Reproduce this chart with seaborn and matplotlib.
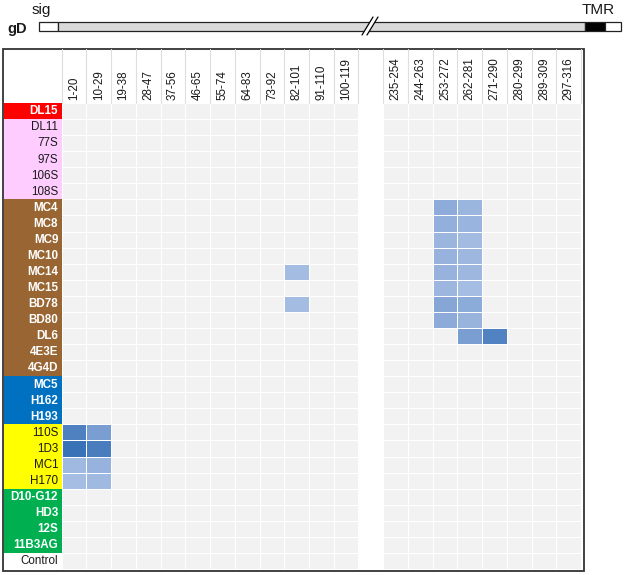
import numpy as np
import pandas as pd
import matplotlib
matplotlib.use("Agg")
import matplotlib.pyplot as plt
from matplotlib.patches import Rectangle, Polygon
from matplotlib.lines import Line2D
from matplotlib.colors import LinearSegmentedColormap, ListedColormap
import seaborn as sns

sns.set_style("white")
plt.rcParams['font.family'] = ['Liberation Sans', 'DejaVu Sans']

# ---------------- data ----------------
rows = ["DL15", "DL11", "77S", "97S", "106S", "108S",
        "MC4", "MC8", "MC9", "MC10", "MC14", "MC15", "BD78", "BD80", "DL6", "4E3E", "4G4D",
        "MC5", "H162", "H193",
        "110S", "1D3", "MC1", "H170",
        "D10-G12", "HD3", "12S", "11B3AG",
        "Control"]
row_group = ["red", "pink", "pink", "pink", "pink", "pink",
             "brown", "brown", "brown", "brown", "brown", "brown", "brown", "brown", "brown", "brown", "brown",
             "blue", "blue", "blue",
             "yellow", "yellow", "yellow", "yellow",
             "green", "green", "green", "green",
             "control"]
left_cols = ["1-20", "10-29", "19-38", "28-47", "37-56", "46-65", "55-74", "64-83",
             "73-92", "82-101", "91-110", "100-119"]
right_cols = ["235-254", "244-263", "253-272", "262-281", "271-290", "280-299",
              "289-309", "297-316"]

# binding intensity (0 = no binding) for the columns that show signal
col_1_20 = {"110S": 0.82, "1D3": 1.0, "MC1": 0.13, "H170": 0.08}
col_10_29 = {"110S": 0.45, "1D3": 0.86, "MC1": 0.20, "H170": 0.13}
col_82_101 = {"MC14": 0.09, "BD78": 0.09}
col_253_272 = {"MC4": 0.28, "MC8": 0.24, "MC9": 0.17, "MC10": 0.20, "MC14": 0.20,
               "MC15": 0.16, "BD78": 0.34, "BD80": 0.29}
col_262_281 = {"MC4": 0.17, "MC8": 0.18, "MC9": 0.10, "MC10": 0.15, "MC14": 0.15,
               "MC15": 0.08, "BD78": 0.30, "BD80": 0.19, "DL6": 0.45}
col_271_290 = {"DL6": 0.80}

signal = {"1-20": col_1_20, "10-29": col_10_29, "82-101": col_82_101,
          "253-272": col_253_272, "262-281": col_262_281, "271-290": col_271_290}

group_style = {
    "red": ("#ff0000", "white", "bold"),
    "pink": ("#ffccff", "#1a1a1a", "normal"),
    "brown": ("#996633", "white", "bold"),
    "blue": ("#0070c0", "white", "bold"),
    "yellow": ("#ffff00", "#1a1a1a", "normal"),
    "green": ("#00b050", "white", "bold"),
    "control": ("white", "#1a1a1a", "normal"),
}

# ---------------- table ----------------
GAP = " "
columns = left_cols + [GAP] + right_cols
df = pd.DataFrame(0.0, index=rows, columns=columns)
for c, d in signal.items():
    for r, v in d.items():
        df.loc[r, c] = v

gap_mask = np.zeros(df.shape, dtype=bool)
gap_mask[:, columns.index(GAP)] = True

# ---------------- figure ----------------
W, H = 625, 575
fig = plt.figure(figsize=(W / 100, H / 100), dpi=100)

def fx(x):
    return x / W

def fy(y):
    return 1 - y / H

x0, x1 = 61.7, 581.0
y0, y1 = 103.0, 569.0
ax = fig.add_axes([fx(x0), fy(y1), fx(x1) - fx(x0), fy(y0) - fy(y1)])
ax.set_facecolor("white")

bg = pd.DataFrame(1.0, index=rows, columns=columns)
sns.heatmap(bg, ax=ax, mask=gap_mask, cmap=ListedColormap(["#f2f2f2"]), vmin=0, vmax=2,
            cbar=False, linewidths=0.5, linecolor="white",
            xticklabels=False, yticklabels=False)

cmap = LinearSegmentedColormap.from_list("gd_blues", ["#aec3e6", "#3a72b8"])
sns.heatmap(df, ax=ax, mask=(df.values <= 0) | gap_mask, cmap=cmap, vmin=0, vmax=1,
            cbar=False, linewidths=0.5, linecolor="white",
            xticklabels=False, yticklabels=False)
for s in ax.spines.values():
    s.set_visible(False)
ax.set_xlabel("")
ax.set_ylabel("")

cw = (x1 - x0) / len(columns)
rh = (y1 - y0) / len(rows)
FS = 8.4

# column labels
for j, c in enumerate(columns):
    if c == GAP:
        continue
    ax.text(j + 0.5, -0.2, c, rotation=90, ha="center", va="bottom",
            fontsize=FS, color="#1a1a1a", clip_on=False)

# header separators
for k in list(range(0, 13)) + list(range(13, 22)):
    xx = x0 + k * cw
    fig.add_artist(Line2D([fx(xx), fx(xx)], [fy(49), fy(y0)], color="#dedede", lw=0.8))

# row labels
lab_w = (x0 - 3.5) / cw
for i, (r, g) in enumerate(zip(rows, row_group)):
    fc, tc, fw = group_style[g]
    ax.add_patch(Rectangle((-lab_w, i), lab_w, 1, facecolor=fc, edgecolor="none",
                           clip_on=False, zorder=3))
    ax.text(-0.14, i + 0.52, r, ha="right", va="center", fontsize=FS,
            color=tc, fontweight=fw, clip_on=False, zorder=4)

# outer box
fig.add_artist(Rectangle((fx(3), fy(570.5)), fx(584) - fx(3), fy(48.5) - fy(570.5),
                         facecolor="none", edgecolor="#333333", lw=1.3,
                         transform=fig.transFigure))

# ---------------- gene diagram ----------------
by0, by1 = 22, 31
def seg(xa, xb, color):
    fig.add_artist(Rectangle((fx(xa), fy(by1)), fx(xb) - fx(xa), fy(by0) - fy(by1),
                             facecolor=color, edgecolor="#222222", lw=0.9,
                             transform=fig.transFigure))
seg(39, 58, "white")
seg(58, 585, "#d9d9d9")
seg(585, 605, "black")
seg(605, 621, "white")
# break mark
fig.add_artist(Polygon([(fx(362.5), fy(34)), (fx(372.5), fy(18)), (fx(377.5), fy(18)),
                        (fx(367.5), fy(34))], closed=True, facecolor="white",
                       edgecolor="none", transform=fig.transFigure))
fig.add_artist(Line2D([fx(362), fx(373)], [fy(35), fy(17)], color="black", lw=0.9))
fig.add_artist(Line2D([fx(367), fx(378)], [fy(35), fy(17)], color="black", lw=0.9))

fig.text(fx(32), fy(10), "sig", ha="left", va="center", fontsize=11, color="#1a1a1a")
fig.text(fx(582), fy(10), "TMR", ha="left", va="center", fontsize=11, color="#1a1a1a")
fig.text(fx(7), fy(28.5), "gD", ha="left", va="center", fontsize=10.5, fontweight="bold",
         color="#1a1a1a")

fig.savefig("out.png", dpi=100)
